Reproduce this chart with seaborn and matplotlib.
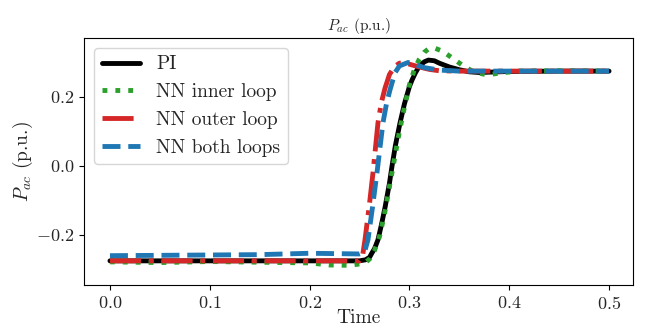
import matplotlib
matplotlib.use("Agg")
import matplotlib.pyplot as plt
import seaborn as sns
import pandas as pd

# ---- data ----
t_pi = [0.0, 0.05, 0.1, 0.15, 0.2, 0.25, 0.256, 0.26, 0.2625, 0.265, 0.2685, 0.272, 0.2756, 0.28, 0.2826,
        0.286, 0.2906, 0.295, 0.30, 0.3026, 0.306, 0.31, 0.315, 0.319, 0.325, 0.33, 0.34, 0.35, 0.36, 0.37,
        0.38, 0.4, 0.45, 0.5]
p_pi = [-0.275, -0.275, -0.275, -0.275, -0.275, -0.275, -0.272, -0.265, -0.252, -0.24, -0.214, -0.17, -0.12,
        -0.05, 0.0, 0.06, 0.125, 0.18, 0.23, 0.249, 0.27, 0.29, 0.302, 0.307, 0.305, 0.298, 0.287, 0.279,
        0.273, 0.271, 0.272, 0.274, 0.275, 0.275]

t_inner = [0.0, 0.05, 0.1, 0.15, 0.2, 0.22, 0.24, 0.255, 0.26, 0.265, 0.27, 0.275, 0.28, 0.285, 0.29, 0.295,
           0.30, 0.305, 0.31, 0.315, 0.32, 0.325, 0.333, 0.343, 0.354, 0.365, 0.378, 0.392, 0.41, 0.45, 0.5]
p_inner = [-0.278, -0.28, -0.277, -0.279, -0.281, -0.287, -0.288, -0.282, -0.27, -0.245, -0.205, -0.14, -0.06,
           0.02, 0.10, 0.17, 0.235, 0.28, 0.31, 0.33, 0.341, 0.342, 0.333, 0.313, 0.29, 0.272, 0.264, 0.27,
           0.275, 0.276, 0.275]

t_outer = [0.0, 0.05, 0.1, 0.15, 0.2, 0.25, 0.253, 0.2555, 0.26, 0.2635, 0.2685, 0.272, 0.2755, 0.28, 0.285,
           0.29, 0.295, 0.30, 0.31, 0.32, 0.33, 0.35, 0.4, 0.45, 0.5]
p_outer = [-0.275, -0.275, -0.275, -0.275, -0.275, -0.275, -0.262, -0.214, -0.11, -0.02, 0.125, 0.185, 0.225,
           0.265, 0.288, 0.298, 0.299, 0.295, 0.287, 0.28, 0.276, 0.275, 0.275, 0.275, 0.275]

t_both = [0.0, 0.05, 0.1, 0.15, 0.2, 0.25, 0.255, 0.2585, 0.263, 0.2675, 0.2735, 0.277, 0.2805, 0.2855, 0.29,
          0.2986, 0.305, 0.315, 0.33, 0.35, 0.4, 0.45, 0.5]
p_both = [-0.26, -0.259, -0.258, -0.257, -0.253, -0.255, -0.25, -0.214, -0.12, -0.02, 0.125, 0.18, 0.22, 0.27,
          0.29, 0.30, 0.295, 0.285, 0.278, 0.275, 0.275, 0.275, 0.275]

series_names = ["PI", "NN inner loop", "NN outer loop", "NN both loops"]
series_colors = ["black", "#2ca02c", "#d62728", "#1f77b4"]
series_styles = ["-", ":", "-.", "--"]
series_data = [(t_pi, p_pi), (t_inner, p_inner), (t_outer, p_outer), (t_both, p_both)]

sns.set_style("ticks")
plt.rcParams["font.family"] = ["cmr10", "DejaVu Serif"]
plt.rcParams["mathtext.fontset"] = "cm"
plt.rcParams["axes.formatter.use_mathtext"] = True
plt.rcParams["axes.unicode_minus"] = True

fig, ax = plt.subplots(figsize=(6.49, 3.29), dpi=100)
for name, col, ls, (tt, pp) in zip(series_names, series_colors, series_styles, series_data):
    df = pd.DataFrame({"Time": tt, "P": pp})
    sns.lineplot(data=df, x="Time", y="P", ax=ax, color=col, linestyle=ls, linewidth=3.5,
                 label=name, estimator=None, sort=False)

ax.set_xlim(-0.026, 0.524)
ax.set_ylim(-0.345, 0.371)
ax.set_xticks([0.0, 0.1, 0.2, 0.3, 0.4, 0.5])
ax.set_yticks([-0.2, 0.0, 0.2])
ax.tick_params(labelsize=13, color="black")
for s in ax.spines.values():
    s.set_color("black")
    s.set_linewidth(0.8)
ax.set_xlabel("Time", fontsize=14, labelpad=-2)
ax.set_ylabel("$P_{ac}$ (p.u.)", fontsize=14, labelpad=0.5)
ax.set_title("$P_{ac}$ (p.u.)", fontsize=11)
ax.legend(loc="upper left", fontsize=14, frameon=True)

fig.subplots_adjust(left=84/649, right=633/649, top=1-38/329, bottom=1-285/329)
fig.savefig("out.png", dpi=100)
